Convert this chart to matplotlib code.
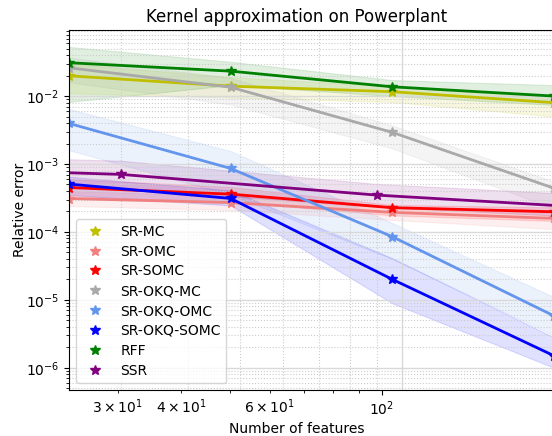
import matplotlib
matplotlib.use('Agg')
import matplotlib.pyplot as plt
from matplotlib.lines import Line2D

# number of features
feats = [24, 48, 96, 192]
feats_ssr = [10, 30, 90, 270]

methods = ['SR-MC', 'SR-OMC', 'SR-SOMC', 'SR-OKQ-MC', 'SR-OKQ-OMC', 'SR-OKQ-SOMC', 'RFF', 'SSR']
colors = ['y', 'lightcoral', 'red', 'darkgray', 'cornflowerblue', 'blue', 'green', 'purple']

# mean relative error and band (lo, hi) per method
sr_mc = [1.99e-2, 1.40e-2, 1.16e-2, 8.0e-3]
sr_mc_lo = [1.1e-2, 9.5e-3, 8.2e-3, 5.0e-3]
sr_mc_hi = [3.0e-2, 1.9e-2, 1.4e-2, 1.05e-2]

sr_omc = [3.1e-4, 2.7e-4, 1.94e-4, 1.58e-4]
sr_omc_lo = [2.4e-4, 2.1e-4, 1.5e-4, 1.1e-4]
sr_omc_hi = [4.0e-4, 3.4e-4, 2.4e-4, 1.9e-4]

sr_somc = [4.5e-4, 3.6e-4, 2.27e-4, 1.98e-4]
sr_somc_lo = [3.3e-4, 2.8e-4, 1.75e-4, 1.45e-4]
sr_somc_hi = [6.0e-4, 4.6e-4, 2.5e-4, 2.3e-4]

sr_okq_mc = [2.61e-2, 1.35e-2, 2.92e-3, 4.4e-4]
sr_okq_mc_lo = [1.6e-2, 7.5e-3, 1.7e-3, 2.2e-4]
sr_okq_mc_hi = [3.7e-2, 1.85e-2, 3.7e-3, 5.5e-4]

sr_okq_omc = [3.96e-3, 8.6e-4, 8.5e-5, 5.8e-6]
sr_okq_omc_lo = [1.6e-3, 3.5e-4, 4.0e-5, 3.0e-6]
sr_okq_omc_hi = [6.45e-3, 1.55e-3, 1.35e-4, 1.1e-5]

sr_okq_somc = [5.06e-4, 3.11e-4, 2.0e-5, 1.5e-6]
sr_okq_somc_lo = [3.5e-4, 2.45e-4, 8.9e-6, 1.0e-6]
sr_okq_somc_hi = [6.5e-4, 4.1e-4, 4.1e-5, 2.8e-6]

rff = [3.1e-2, 2.33e-2, 1.37e-2, 1.0e-2]
rff_lo = [8.2e-3, 1.45e-2, 1.0e-2, 7.4e-3]
rff_hi = [5.3e-2, 3.2e-2, 1.72e-2, 1.45e-2]

ssr = [9.2e-4, 7.03e-4, 3.48e-4, 2.1e-4]
ssr_lo = [5.5e-4, 4.3e-4, 2.3e-4, 1.5e-4]
ssr_hi = [1.4e-3, 1.1e-3, 5.0e-4, 3.2e-4]

means = [sr_mc, sr_omc, sr_somc, sr_okq_mc, sr_okq_omc, sr_okq_somc, rff, ssr]
lows = [sr_mc_lo, sr_omc_lo, sr_somc_lo, sr_okq_mc_lo, sr_okq_omc_lo, sr_okq_somc_lo, rff_lo, ssr_lo]
highs = [sr_mc_hi, sr_omc_hi, sr_somc_hi, sr_okq_mc_hi, sr_okq_omc_hi, sr_okq_somc_hi, rff_hi, ssr_hi]
xs = [feats] * 7 + [feats_ssr]

fig = plt.figure(figsize=(5.52, 4.36), dpi=100)
ax = fig.add_axes([69 / 552, 46 / 436, 485 / 552, 360 / 436])

handles = []
for name, c, x, m, lo, hi in zip(methods, colors, xs, means, lows, highs):
    ax.fill_between(x, lo, hi, color=c, alpha=0.12, lw=0.8)
    ax.plot(x, m, color=c, lw=2, marker='*', markersize=7)
    handles.append(Line2D([], [], color=c, ls='none', marker='*', markersize=7, label=name))

ax.set_xscale('log')
ax.set_yscale('log')
ax.set_xlim(feats[0], feats[-1])
ax.set_ylim(4.7e-7, 0.094)
ax.grid(True, which='major', color='0.85', lw=1)
ax.grid(True, which='minor', color='0.8', ls=':', lw=0.8)
ax.tick_params(axis='x', which='both', length=0, labelbottom=False)
ax.spines['right'].set_visible(False)
ax.set_ylabel('Relative error', labelpad=-1)
ax.legend(handles=handles, loc='lower left', fontsize=10, labelspacing=0.42)

# tick axis for the bottom labels, title and x label
ax2 = fig.add_axes([69 / 552, 46 / 436, 456 / 552, 360 / 436], frameon=False)
ax2.set_xscale('log')
ax2.set_xlim(feats[0], feats[-1])
ax2.set_yticks([])
ax2.patch.set_alpha(0)
ax2.set_xlabel('Number of features', labelpad=3)
ax2.set_title('Kernel approximation on Powerplant')

fig.savefig('out.png', dpi=100)
